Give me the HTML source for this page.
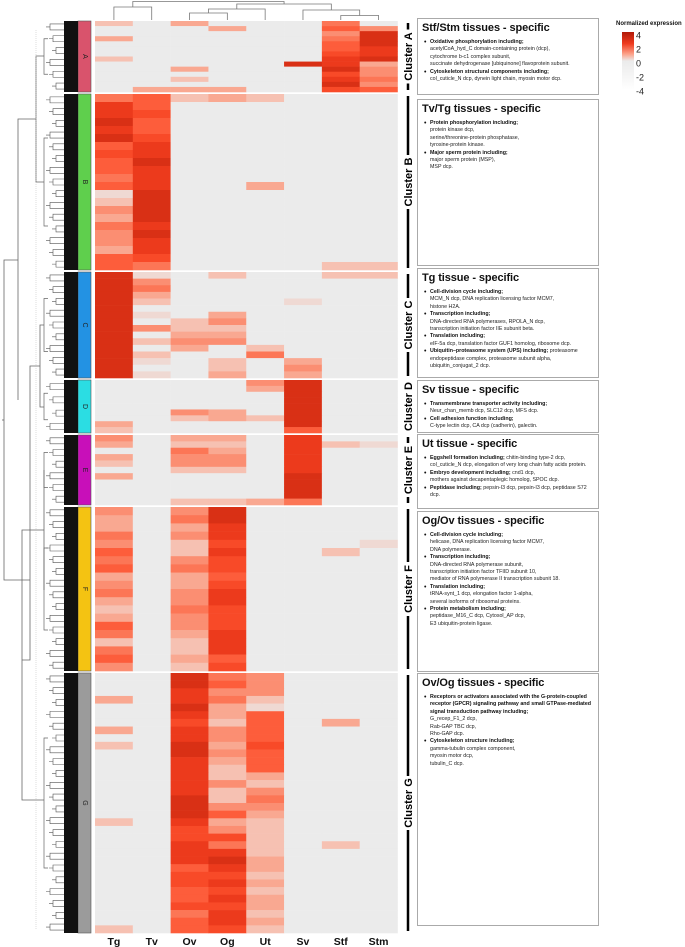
<!DOCTYPE html>
<html><head><meta charset="utf-8">
<style>
body{margin:0;width:685px;height:947px;background:#fff;position:relative;overflow:hidden;font-family:"Liberation Sans",Arial,sans-serif;}
svg{position:absolute;left:0;top:0}
.box{position:absolute;left:417px;width:182px;border:1px solid #aaa;background:#fff;box-sizing:border-box;padding:3px 3px 0 4px}
.box h3{margin:0 0 5px 0;font-size:11px;font-weight:bold;color:#111;letter-spacing:-0.1px}
.box ul{margin:0;padding:0 0 0 8px;font-size:5.3px;line-height:7.4px;color:#222;list-style:none}
.box li{margin:0;position:relative}
.box li:before{content:"\2022";position:absolute;left:-6px;top:0;font-size:7px;color:#111}
.box b{color:#111}
</style></head><body>
<svg id="chart" width="685" height="947" viewBox="0 0 685 947"></svg>

<div class="box" style="top:18px;height:77px">
<h3>Stf/Stm tissues - specific</h3>
<ul><li><b>Oxidative phosphorylation including;</b><br>acetylCoA_hyd_C domain-containing protein (dcp),<br>cytochrome b-c1 complex subunit,<br>succinate dehydrogenase [ubiquinone] flavoprotein subunit.</li>
<li><b>Cytoskeleton structural components including;</b><br>col_cuticle_N dcp, dynein light chain, myosin motor dcp.</li></ul></div>

<div class="box" style="top:99px;height:167px">
<h3>Tv/Tg tissues - specific</h3>
<ul><li><b>Protein phosphorylation including;</b><br>protein kinase dcp,<br>serine/threonine-protein phosphatase,<br>tyrosine-protein kinase.</li>
<li><b>Major sperm protein including;</b><br>major sperm protein (MSP),<br>MSP dcp.</li></ul></div>

<div class="box" style="top:268px;height:110px">
<h3>Tg tissue - specific</h3>
<ul><li><b>Cell-division cycle including;</b><br>MCM_N dcp, DNA replication licensing factor MCM7,<br>histone H2A.</li>
<li><b>Transcription including;</b><br>DNA-directed RNA polymerases, RPOLA_N dcp,<br>transcription initiation factor IIE subunit beta.</li>
<li><b>Translation including;</b><br>eIF-5a dcp, translation factor GUF1 homolog, ribosome dcp.</li>
<li><b>Ubiquitin–proteasome system (UPS) including;</b> proteasome endopeptidase complex, proteasome subunit alpha, ubiquitin_conjugat_2 dcp.</li></ul></div>

<div class="box" style="top:380px;height:53px">
<h3>Sv tissue - specific</h3>
<ul><li><b>Transmembrane transporter activity including;</b><br>Neur_chan_memb dcp, SLC12 dcp, MFS dcp.</li>
<li><b>Cell adhesion function including;</b><br>C-type lectin dcp, CA dcp (cadherin), galectin.</li></ul></div>

<div class="box" style="top:434px;height:75px">
<h3>Ut tissue - specific</h3>
<ul><li><b>Eggshell formation including;</b> chitin-binding type-2 dcp,<br>col_cuticle_N dcp, elongation of very long chain fatty acids protein.</li>
<li><b>Embryo development including;</b> cnd1 dcp,<br>mothers against decapentaplegic homolog, SPOC dcp.</li>
<li><b>Peptidase including;</b> pepsin-I3 dcp, pepsin-I3 dcp, peptidase S72 dcp.</li></ul></div>

<div class="box" style="top:511px;height:161px">
<h3>Og/Ov tissues - specific</h3>
<ul><li><b>Cell-division cycle including;</b><br>helicase, DNA replication licensing factor MCM7,<br>DNA polymerase.</li>
<li><b>Transcription including;</b><br>DNA-directed RNA polymerase subunit,<br>transcription initiation factor TFIID subunit 10,<br>mediator of RNA polymerase II transcription subunit 18.</li>
<li><b>Translation including;</b><br>tRNA-synt_1 dcp, elongation factor 1-alpha,<br>several isoforms of ribosomal proteins.</li>
<li><b>Protein metabolism including;</b><br>peptidase_M16_C dcp, Cytosol_AP dcp,<br>E3 ubiquitin-protein ligase.</li></ul></div>

<div class="box" style="top:673px;height:253px">
<h3>Ov/Og tissues - specific</h3>
<ul><li><b>Receptors or activators associated with the G-protein-coupled receptor (GPCR) signaling pathway and small GTPase-mediated signal transduction pathway including;</b><br>G_recep_F1_2 dcp,<br>Rab-GAP TBC dcp,<br>Rho-GAP dcp.</li>
<li><b>Cytoskeleton structure including;</b><br>gamma-tubulin complex component,<br>myosin motor dcp,<br>tubulin_C dcp.</li></ul></div>

<script>
const tissues = ["Tg","Tv","Ov","Og","Ut","Sv","Stf","Stm"];
const clusterNames = ["A","B","C","D","E","F","G"];
const clusterColors = ["#d9536c","#5fcf4d","#2392e3","#2bdde3","#c80fb9","#f4c312","#9b9b9b"];
const clusterStart = [21,94,272,380,435,507,673];
const clusterEnd = [92,270,378,433,505,671,933];
// each row: 8 digits, expression level 0..9 per tissue
const rowsA = ["20300050","00030064","00000049","30000059","00000069","00000068","00000078","20000089","00000983","00300094","00000074","00200085","00000094","03330076"];
const rowsB = ["56232000","86000000","87000000","96000000","86000000","97000000","68000000","78000000","69000000","68000000","58000000","68003000","19000000","29000000","49000000","39000000","58000000","49000000","48000000","38000000","67000000","65000022"];
const rowsC = ["91020022","94000000","95000000","93000000","92000100","90000000","91030000","90240000","94220000","90330000","92440000","90302000","92005000","91020300","90020400","91030300"];
const rowsD = ["00004900","00003900","00000900","00000900","00000900","00430900","00232900","30000900","20000600"];
const rowsE = ["40330800","30220821","00530800","30440800","20440800","00220800","30000900","00000900","00000900","00000900","00223500"];
const rowsF = ["40490000","30590000","30380000","50480000","40270001","60280020","50470000","60570000","30360000","40370000","50480000","30480000","20570000","30470000","60470000","50380000","20280000","50280000","60360000","40270000"];
const rowsG = ["00954000","00964000","00844000","30852000","00931000","00836000","00726030","30846000","00846000","20937000","00946000","00836000","00826000","00823000","00842000","00824000","00925000","00944000","00963000","20832000","00742000","00772000","00852020","00882000","00893000","00683000","00772000","00783000","00672000","00683000","00773000","00582000","00683000","20672000"];
const clusterRows = [rowsA,rowsB,rowsC,rowsD,rowsE,rowsF,rowsG];
const legendTicks = [4,2,0,-2,-4];

const NS="http://www.w3.org/2000/svg";
const svg=document.getElementById("chart");
function mk(tag,attrs,parent){const e=document.createElementNS(NS,tag);for(const k in attrs)e.setAttribute(k,attrs[k]);(parent||svg).appendChild(e);return e;}
const palette=['#ebebeb','#efd9d3','#f6c1b2','#f9a891','#fb8e72','#fc7656','#fd5d3b','#f84a28','#ec3a1c','#d93015'];
const hmLeft=95, hmRight=397.5;
const colW=(hmRight-hmLeft)/tissues.length;
function xScale(i){return hmLeft+i*colW;}

clusterRows.forEach((rows,ci)=>{
  const y0=clusterStart[ci], y1=clusterEnd[ci], h=(y1-y0)/rows.length;
  const g=mk("g",{});
  
  
  rows.forEach((r,ri)=>{
    for(let c=0;c<tissues.length;c++){
      const v=+r[c];
      const rc=mk("rect",{x:xScale(c),y:y0+ri*h,width:colW+0.3,height:h+0.3,fill:palette[v]},g);
      
      
    }
  });
  const bar=mk("rect",{x:78,y:y0,width:13,height:y1-y0,fill:clusterColors[ci],stroke:"#555","stroke-width":0.6});
  
  
  const cy=(y0+y1)/2;
  const t=mk("text",{x:85,y:cy,"font-size":7,"text-anchor":"middle","dominant-baseline":"middle",fill:"#222",transform:`rotate(90 85 ${cy})`});
  t.textContent=clusterNames[ci];
  
  
  // leaves of row dendrogram
  const lf=mk("rect",{x:64,y:y0,width:14,height:y1-y0,fill:"#111"});
  
  
  const n=Math.max(3,Math.round((y1-y0)/12));
  for(let k=0;k<n;k++){
    const yy=y0+(k+0.5)*(y1-y0)/n;
    const xa=50+(k%3)*3;
    const br=mk("path",{d:`M64 ${yy-3} H${xa} V${yy+3} H64 M${xa} ${yy} H${xa-4}`,fill:"none",stroke:"#555","stroke-width":0.6});
    
    
  }
  const sb=mk("path",{d:`M48 ${y0+(y1-y0)*0.25} H44 V${y0+(y1-y0)*0.75} H48`,fill:"none",stroke:"#666","stroke-width":0.7});
  
  
  const lx=408;
  const ln=mk("line",{x1:lx,x2:lx,y1:y0+2,y2:y1-2,stroke:"#000","stroke-width":2.5});
  
  
  const bg=mk("rect",{x:lx-6,y:cy-27,width:12,height:54,fill:"#fff"});
  
  
  const st=mk("text",{x:lx+4,y:cy,"font-size":11,"font-weight":"bold","text-anchor":"middle",fill:"#000",transform:`rotate(-90 ${lx+4} ${cy})`});
  st.textContent="Cluster "+clusterNames[ci];
  
  
});

const dendroPaths=["M44 56 H36 V182 H44","M36 119 H18 V400 ","M44 325 H40 V407 H44","M44 470 H44 V590","M44 800 H22 V530 H44","M40 366 H30 V660 H22","M18 260 H4 V580 H30","M4 420 H2"];
dendroPaths.forEach(d=>{
  const p=mk("path",{d:d,fill:"none",stroke:"#666","stroke-width":0.8});
  
  
});
const dotted=mk("line",{x1:36,x2:36,y1:30,y2:930,stroke:"#bbb","stroke-width":0.5,"stroke-dasharray":"1,1"});



function cx(i){return xScale(i)+colW/2;}
const colDendro=[
 [cx(0),cx(1),20,20,7],
 [cx(2),cx(3),20,20,13],
 [(cx(2)+cx(3))/2,cx(4),13,20,9],
 [cx(6),cx(7),20,20,15.5],
 [cx(5),(cx(6)+cx(7))/2,20,15.5,10],
 [((cx(2)+cx(3))/2+cx(4))/2,(cx(5)+(cx(6)+cx(7))/2)/2,9,10,4],
 [(cx(0)+cx(1))/2,(((cx(2)+cx(3))/2+cx(4))/2+(cx(5)+(cx(6)+cx(7))/2)/2)/2,7,4,1.5]
];
colDendro.forEach(([a,b,ya,yb,top])=>{
  const p=mk("path",{d:`M${a} ${ya} V${top} H${b} V${yb}`,fill:"none",stroke:"#777","stroke-width":0.8});
  
  
});

tissues.forEach((t,i)=>{
  const tx=mk("text",{x:cx(i),y:945,"font-size":10.5,"font-weight":"bold","text-anchor":"middle",fill:"#111"});
  tx.textContent=t;
  
  
});

const defs=mk("defs",{});
const gr=mk("linearGradient",{id:"lg",x1:0,y1:0,x2:0,y2:1},defs);
[["0","#b01a08"],["0.2","#ef3b1f"],["0.38","#fca28a"],["0.5","#ebebeb"],["1","#ffffff"]].forEach(([o,c])=>mk("stop",{offset:o,"stop-color":c},gr));
const lt=mk("text",{x:616,y:25,"font-size":6,"font-weight":"bold",fill:"#111"});
lt.textContent="Normalized expression";


const lb=mk("rect",{x:622,y:32,width:12,height:58,fill:"url(#lg)"});


legendTicks.forEach((v,i)=>{
  const y=35+i*14;
  const tk=mk("text",{x:636,y:y+3.5,"font-size":9,fill:"#222"});
  tk.textContent=String(v);
  
  
});
</script>
</body></html>
